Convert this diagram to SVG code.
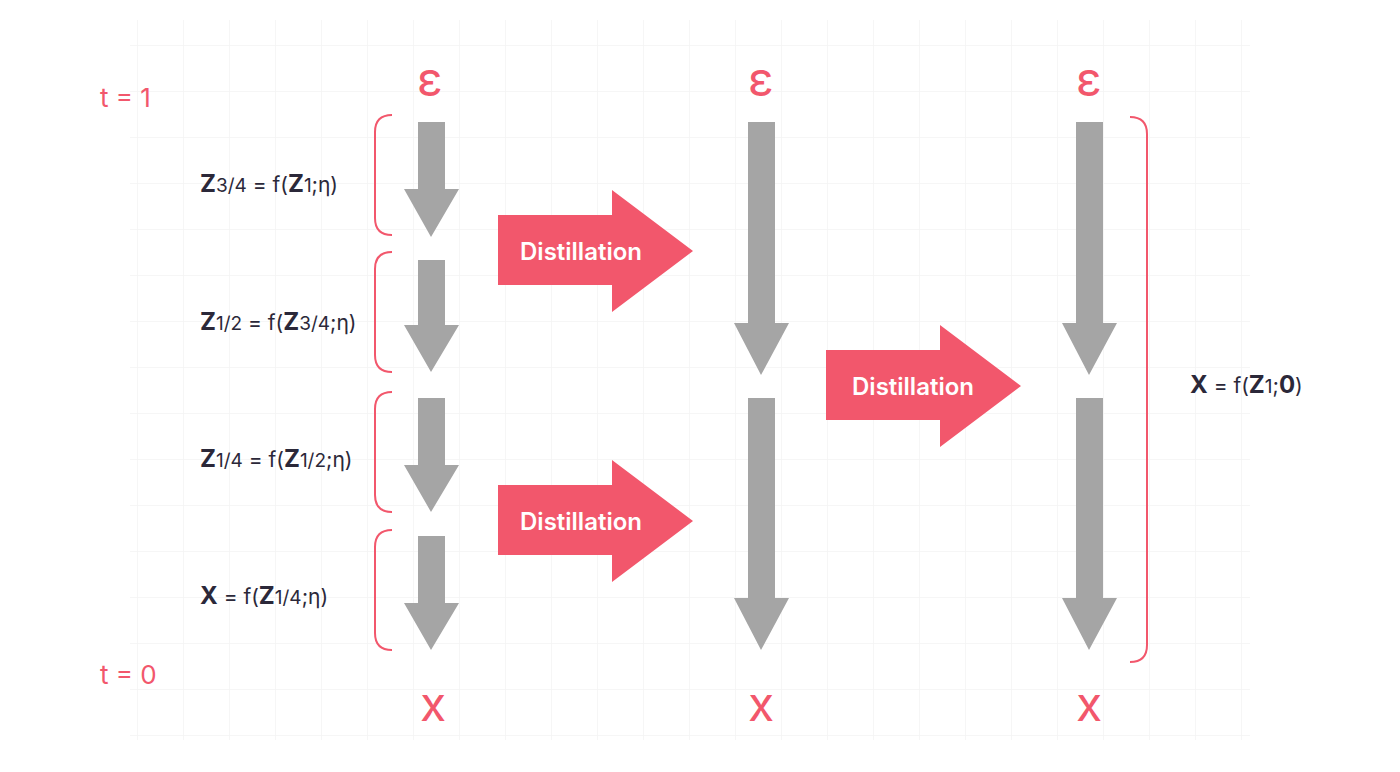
<svg xmlns="http://www.w3.org/2000/svg" width="1400" height="772" viewBox="0 0 1400 772">
<style>
.g{fill:#a5a5a5}
.d{fill:#f2576c}
.br{fill:none;stroke:#f2576c;stroke-width:2}
.lab{font-family:Inter,"Open Sans",sans-serif;font-size:21px;fill:#2b2839}
.sub{font-size:19px}
.b{font-weight:bold;font-size:24px}
.pk{font-family:Inter,"Open Sans",sans-serif;fill:#f2576c}
.dt{font-family:Inter,"Open Sans",sans-serif;font-size:24px;font-weight:600;fill:#fff}
</style>
<defs>
<pattern id="grid" width="46" height="46" patternUnits="userSpaceOnUse"><path d="M46 0V46H0" fill="none" stroke="#f1f1f1" stroke-width="1.5"/></pattern>
</defs>
<rect width="1400" height="772" fill="#fff"/>
<rect x="130" y="20" width="1120" height="720" fill="url(#grid)" opacity="0.8"/>
<g id="labels">
<text class="pk" x="100" y="107" font-size="26">t = 1</text>
<text class="pk" x="100" y="684" font-size="26">t = 0</text>
<text class="pk" x="430" y="96" font-size="48" text-anchor="middle">ε</text>
<text class="pk" x="761" y="96" font-size="48" text-anchor="middle">ε</text>
<text class="pk" x="1089" y="96" font-size="48" text-anchor="middle">ε</text>
<text class="pk" x="433" y="721" font-size="48" text-anchor="middle">x</text>
<text class="pk" x="761" y="721" font-size="48" text-anchor="middle">x</text>
<text class="pk" x="1089" y="721" font-size="48" text-anchor="middle">x</text>
<text class="lab" x="200" y="192"><tspan class="b">Z</tspan><tspan class="sub">3/4</tspan> = f(<tspan class="b">Z</tspan><tspan class="sub">1</tspan>;η)</text>
<text class="lab" x="200" y="330"><tspan class="b">Z</tspan><tspan class="sub">1/2</tspan> = f(<tspan class="b">Z</tspan><tspan class="sub">3/4</tspan>;η)</text>
<text class="lab" x="200" y="467"><tspan class="b">Z</tspan><tspan class="sub">1/4</tspan> = f(<tspan class="b">Z</tspan><tspan class="sub">1/2</tspan>;η)</text>
<text class="lab" x="200" y="604"><tspan class="b">X</tspan> = f(<tspan class="b">Z</tspan><tspan class="sub">1/4</tspan>;η)</text>
<text class="lab" x="1190" y="393"><tspan class="b">X</tspan> = f(<tspan class="b">Z</tspan><tspan class="sub">1</tspan>;<tspan class="b">0</tspan>)</text>
</g>
<g id="brackets">
<path class="br" d="M392 115Q375 115 375 132V218Q375 235 392 235"/>
<path class="br" d="M392 252Q375 252 375 269V355Q375 372 392 372"/>
<path class="br" d="M392 392Q375 392 375 409V495Q375 512 392 512"/>
<path class="br" d="M392 530Q375 530 375 547V633Q375 650 392 650"/>
<path class="br" d="M1130 117Q1147 117 1147 134V645Q1147 662 1130 662"/>
</g>
<g id="connectors">
<path class="g" d="M418 122H445V189H459L431 237L404 189H418Z"/>
<path class="g" d="M418 260H445V325H459L431 372L404 325H418Z"/>
<path class="g" d="M418 398H445V465H459L431 512L404 465H418Z"/>
<path class="g" d="M418 536H445V603H459L431 650L404 603H418Z"/>
<path class="g" d="M748 122H775V323H789L761 375L734 323H748Z"/>
<path class="g" d="M748 398H775V598H789L761 650L734 598H748Z"/>
<path class="g" d="M1076 122H1103V323H1117L1089 375L1062 323H1076Z"/>
<path class="g" d="M1076 398H1103V598H1117L1089 650L1062 598H1076Z"/>
</g>
<g id="distill1"><path class="d" d="M498 215H612V190L693 251L612 312V285H498Z"/><text class="dt" x="581" y="260" text-anchor="middle">Distillation</text></g>
<g id="distill2"><path class="d" d="M498 485H612V460L693 521L612 582V555H498Z"/><text class="dt" x="581" y="530" text-anchor="middle">Distillation</text></g>
<g id="distill3"><path class="d" d="M826 350H940V325L1021 386L940 447V420H826Z"/><text class="dt" x="913" y="395" text-anchor="middle">Distillation</text></g>
</svg>
